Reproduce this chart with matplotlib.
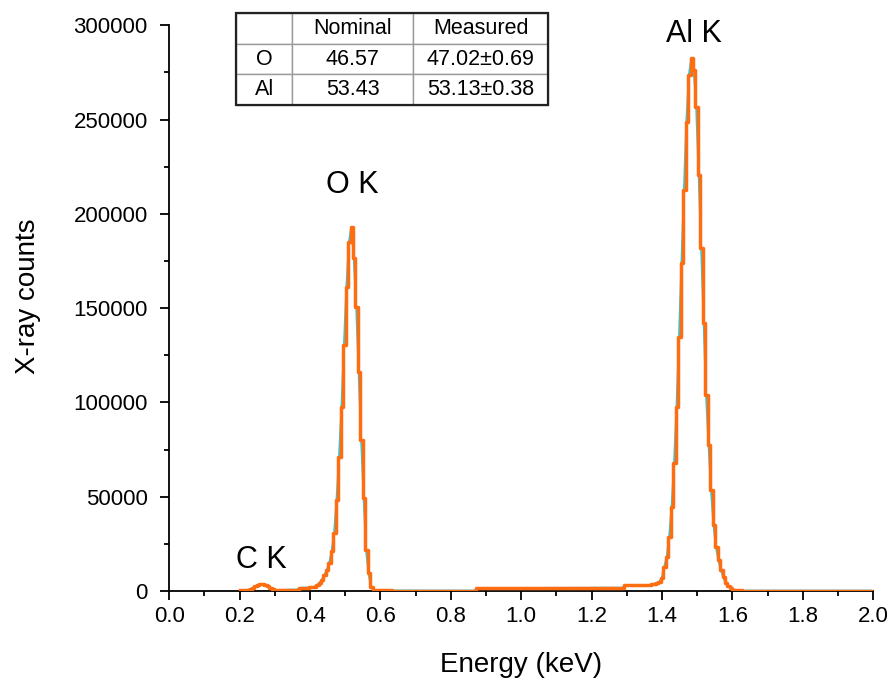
import numpy as np
import matplotlib.pyplot as plt
from matplotlib.patches import Rectangle

plt.rcParams['font.family'] = ['Liberation Sans', 'DejaVu Sans']

# spectre : canaux de 0.007 keV a partir de 0.2 keV
e_debut = 0.2
largeur_canal = 0.007
comptes = [
    # 0.200 - pic C K
    500, 500, 600, 700, 1000, 1800, 2600, 3300, 3700, 3600,
    3200, 2500, 1600, 900,
    # fond avant O K
    600, 600, 650, 650, 700, 700, 750, 750, 800, 800,
    1700, 1800, 1800, 1900, 2000, 2100, 2300,
    # pic O K
    3200, 4400, 5800, 8500, 11100, 14800, 21000, 30700, 48200, 71000,
    97500, 130400, 161100, 185000, 193000, 176500, 150500, 116000, 80000, 49300,
    21700, 9500, 2000, 700,
    # fond 0.585 - 0.87
    500, 450, 400, 400, 350, 350, 350, 300, 300, 300,
    300, 300, 300, 300, 300, 300, 300, 300, 300, 300,
    300, 300, 300, 300, 300, 300, 300, 300, 300, 300,
    300, 300, 300, 300, 300, 300, 300, 300, 300, 300,
    300,
    # fond 0.872 - 1.29
    1500, 1500, 1500, 1500, 1500, 1500, 1550, 1550, 1550, 1550,
    1550, 1550, 1600, 1600, 1600, 1600, 1600, 1600, 1600, 1600,
    1650, 1650, 1650, 1650, 1650, 1650, 1650, 1650, 1700, 1700,
    1700, 1700, 1700, 1700, 1700, 1700, 1700, 1750, 1750, 1750,
    1750, 1750, 1750, 1750, 1750, 1750, 1800, 1800, 1800, 1800,
    1800, 1800, 1800, 1800, 1800, 1800, 1800, 1800, 1800, 1800,
    # 1.292 - 1.37
    3200, 3200, 3200, 3200, 3200, 3200, 3200, 3200, 3200, 3200,
    3200, 3600, 4000, 4400,
    # pic Al K
    5000, 6900, 12700, 18000, 28600, 44500, 67800, 97500, 134600, 173800,
    212500, 248600, 273500, 282500, 276100, 256500, 220500, 181800, 142000, 103900,
    77400, 53500, 35000, 23300, 16400, 11100, 7400, 4200, 2600, 1600,
    # fond 1.6 - 2.0
    700, 500, 400, 350, 300, 300, 300, 300, 300, 300,
    300, 300, 300, 300, 300, 300, 300, 300, 300, 300,
    300, 300, 300, 300, 300, 300, 300, 300, 300, 300,
    300, 300, 300, 300, 300, 300, 300, 300, 300, 300,
    300, 300, 300, 300, 300, 300, 300, 300, 300, 300,
    300, 300, 300, 300, 300, 300, 300,
]

pics = ['C K', 'O K', 'Al K']
pics_pos = [(0.262, 8400), (0.52, 207300), (1.49, 287300)]

entetes = ['', 'Nominal', 'Measured']
elements = ['O', 'Al']
nominal = ['46.57', '53.43']
mesure = ['47.02\u00b10.69', '53.13\u00b10.38']

comptes = np.array(comptes, dtype=float)
energie = e_debut + largeur_canal * np.arange(len(comptes))

fig = plt.figure(figsize=(8.91, 6.81), dpi=100)
ax = fig.add_axes([0.19, 0.132, 0.79, 0.831])

# ajustement (cyan) sous l'histogramme, presque cache
ax.plot(energie + 0.3 * largeur_canal, comptes, color='#3cc8d0', lw=1.4, zorder=2)
ax.plot(np.append(energie, energie[-1] + largeur_canal), np.append(comptes, comptes[-1]),
        drawstyle='steps-post', color='#ff6d12', lw=2.5, zorder=3)

ax.set_xlim(0, 2.0)
ax.set_ylim(0, 300000)
ax.set_xticks(np.arange(0, 2.01, 0.2))
ax.set_xticks(np.arange(0.1, 2.0, 0.2), minor=True)
ax.set_yticks(np.arange(0, 300001, 50000))
ax.set_yticks(np.arange(25000, 300000, 50000), minor=True)
ax.set_xticklabels([f'{v:.1f}' for v in np.arange(0, 2.01, 0.2)])
ax.set_yticklabels([f'{int(v)}' for v in np.arange(0, 300001, 50000)])

for cote in ['top', 'right']:
    ax.spines[cote].set_visible(False)
for cote in ['left', 'bottom']:
    ax.spines[cote].set_linewidth(1.3)
ax.tick_params(which='major', direction='out', length=6.5, width=1.3, labelsize=16)
ax.tick_params(which='minor', direction='out', length=3.5, width=1.3)
ax.tick_params(axis='y', pad=9)
ax.tick_params(axis='x', pad=4)

ax.set_xlabel('Energy (keV)', fontsize=20)
ax.set_ylabel('X-ray counts', fontsize=20)
ax.xaxis.set_label_coords(0.5, -0.107)
ax.yaxis.set_label_coords(-0.182, 0.521)

for nom, (x, y) in zip(pics, pics_pos):
    ax.text(x, y, nom, fontsize=22, ha='center', va='bottom')

# tableau
donnees = [entetes] + [[el, n, m] for el, n, m in zip(elements, nominal, mesure)]
tab = ax.table(cellText=donnees, cellLoc='center', colWidths=[56, 121, 135],
               bbox=[0.095, 0.859, 0.443, 0.162])
tab.auto_set_font_size(False)
tab.set_fontsize(15.5)
for cellule in tab.get_celld().values():
    cellule.set_edgecolor('#9a9a9a')
    cellule.set_linewidth(1.0)
    cellule.PAD = 0.02
ax.add_patch(Rectangle((0.095, 0.859), 0.443, 0.162, transform=ax.transAxes,
                       fill=False, edgecolor='#222222', lw=1.6, clip_on=False, zorder=10))

fig.savefig('out.png', dpi=100)
